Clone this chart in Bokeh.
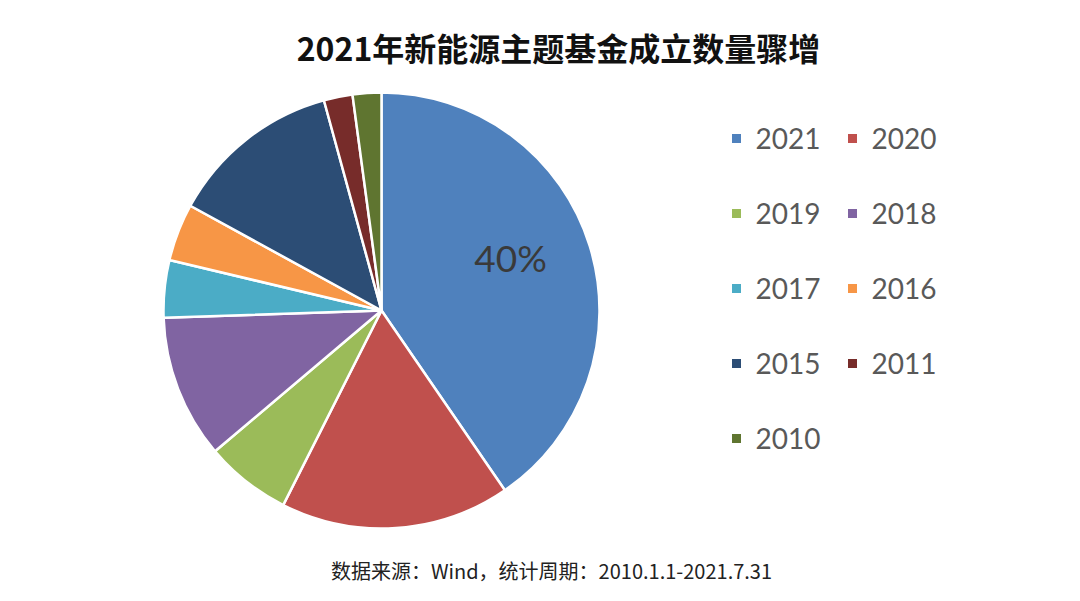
import math

from bokeh.core.properties import value
from bokeh.embed import file_html
from bokeh.models import ColumnDataSource, Range1d
from bokeh.plotting import figure
from bokeh.resources import INLINE

# funds founded per year (new-energy theme funds)
years = ["2021", "2020", "2019", "2018", "2017", "2016", "2015", "2011", "2010"]
counts = [19, 8, 3, 5, 2, 2, 6, 1, 1]
colors = ["#4F81BD", "#C0504D", "#9BBB59", "#8064A2", "#4BACC6",
          "#F79646", "#2C4D75", "#772C2A", "#5F7530"]

title = "2021年新能源主题基金成立数量骤增"
source_note = "数据来源：Wind，统计周期：2010.1.1-2021.7.31"

W, H = 1064, 585
CX, CY, R = 381, 275, 218

total = sum(counts)
starts, ends = [], []
cum = 0
for c in counts:
    starts.append(math.pi / 2 - 2 * math.pi * cum / total)
    cum += c
    ends.append(math.pi / 2 - 2 * math.pi * cum / total)

src = ColumnDataSource(dict(year=years, count=counts, color=colors,
                            start=starts, end=ends))

p = figure(width=W, height=H, output_backend="svg", toolbar_location=None,
           x_range=Range1d(0, W), y_range=Range1d(0, H), min_border=0)
p.axis.visible = False
p.grid.visible = False
p.outline_line_color = None
p.background_fill_color = "white"

p.wedge(x=CX, y=CY, radius=R, start_angle="start", end_angle="end",
        direction="clock", fill_color="color", line_color="white",
        line_width=2.5, source=src)

# percentage label only on the largest slice
mid = (starts[0] + ends[0]) / 2 + 0.09
p.text(x=[CX + 0.64 * R * math.cos(mid)], y=[CY + 0.64 * R * math.sin(mid)],
       text=["%d%%" % round(100 * counts[0] / total)],
       text_font=value("Lato"), text_font_size="37px", text_color="#3a3a3a",
       text_align="center", text_baseline="middle")

# legend, two columns
lx = [736 + 116 * (i % 2) for i in range(len(years))]
ly = [447 - 75 * (i // 2) for i in range(len(years))]
p.rect(x=lx, y=ly, width=9, height=9, fill_color=colors, line_color=None)
p.text(x=[x + 19 for x in lx], y=ly, text=years,
       text_font=value("Lato"), text_font_size="28px", text_color="#595959",
       text_align="left", text_baseline="middle")

p.text(x=[558], y=[539], text=[title], text_font=value("Noto Sans CJK SC"),
       text_font_size="32px", text_font_style="bold", text_color="#111111",
       text_align="center", text_baseline="middle")
p.text(x=[551], y=[15], text=[source_note], text_font=value("Noto Sans CJK SC"),
       text_font_size="20px", text_color="#222222",
       text_align="center", text_baseline="middle")

open("out.html", "w").write(file_html(p, INLINE))
